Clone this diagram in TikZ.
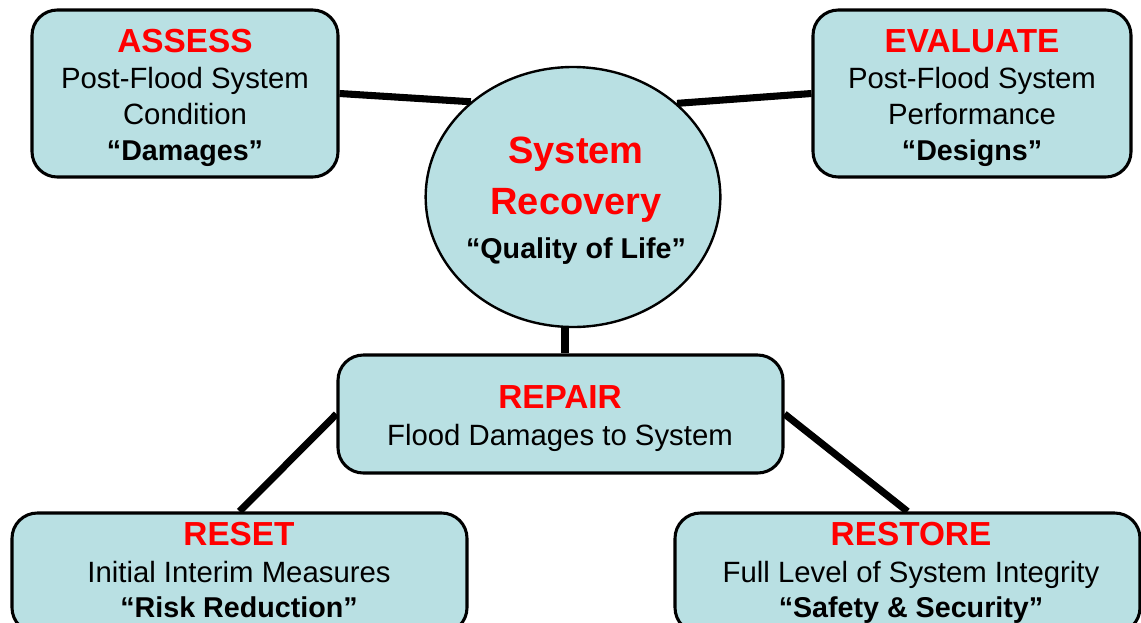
\documentclass[tikz,border=0pt]{standalone}
\usepackage{fontspec}
\setmainfont{Liberation Sans}
\usetikzlibrary{fit,shapes.geometric,backgrounds}
\definecolor{boxfill}{RGB}{185,224,227}
\definecolor{headred}{RGB}{255,0,0}
\begin{document}
\begin{tikzpicture}[x=0.75pt,y=-0.75pt,
  box/.style={draw=black, line width=2.3pt, fill=boxfill, rounded corners=19pt, inner sep=0pt},
  oval/.style={ellipse, draw=black, line width=1.8pt, fill=boxfill, inner sep=0pt},
  head/.style={text=headred, font=\fontsize{25}{28}\selectfont\bfseries, inner sep=0pt, anchor=base},
  bighead/.style={text=headred, font=\fontsize{28.5}{32}\selectfont\bfseries, inner sep=0pt, anchor=base},
  body/.style={font=\fontsize{22}{25}\selectfont, inner sep=0pt, anchor=base},
  boldbody/.style={font=\fontsize{21.5}{25}\selectfont\bfseries, inner sep=0pt, anchor=base},
  link/.style={line width=5.3pt}]
\useasboundingbox (0,0) rectangle (1141,622);
\clip (0,0) rectangle (1141,622);

% shapes
\node[oval, minimum width=221pt, minimum height=195pt] (core) at (573,197) {};
\node[box, fit={(32,10)(338,177)}] (assess) {};
\node[box, fit={(813,10)(1131,177)}] (evaluate) {};
\node[box, fit={(338,355)(783,473)}] (repair) {};
\node[box, fit={(12,513)(467,633)}] (reset) {};
\node[box, fit={(675,513)(1140,633)}] (restore) {};

% connectors, under the shapes
\begin{scope}[on background layer]
\draw[link] (assess.east) -- (core.137);
\draw[link] (evaluate.west) -- (core.42);
\draw[link] ([xshift=-6pt]core.south) -- ([xshift=-6pt]core.south |- repair.north);
\draw[link] (repair.west) -- (reset.north);
\draw[link] (repair.east) -- (restore.north);
\end{scope}

% texts
\node[head] (t1) at (185,52) {ASSESS};
\node[body] (t2) at (185,88) {Post-Flood System};
\node[body] (t3) at (185,124) {Condition};
\node[boldbody] (t4) at (185,160) {“Damages”};

\node[head] (e1) at (972,52) {EVALUATE};
\node[body] (e2) at (972,88) {Post-Flood System};
\node[body] (e3) at (972,124) {Performance};
\node[boldbody] (e4) at (972,160) {“Designs”};

\node[bighead] (c1) at (576,163) {System};
\node[bighead] (c2) at (576,214) {Recovery};
\node[boldbody] (c3) at (576,258) {“Quality of Life”};

\node[head] (r1) at (560,408) {REPAIR};
\node[body] (r2) at (560,445) {Flood Damages to System};

\node[head] (s1) at (239,545) {RESET};
\node[body] (s2) at (239,582) {Initial Interim Measures};
\node[boldbody] (s3) at (239,617) {“Risk Reduction”};

\node[head] (o1) at (911,545) {RESTORE};
\node[body] (o2) at (911,582) {Full Level of System Integrity};
\node[boldbody] (o3) at (911,617) {“Safety \& Security”};
\end{tikzpicture}
\end{document}
